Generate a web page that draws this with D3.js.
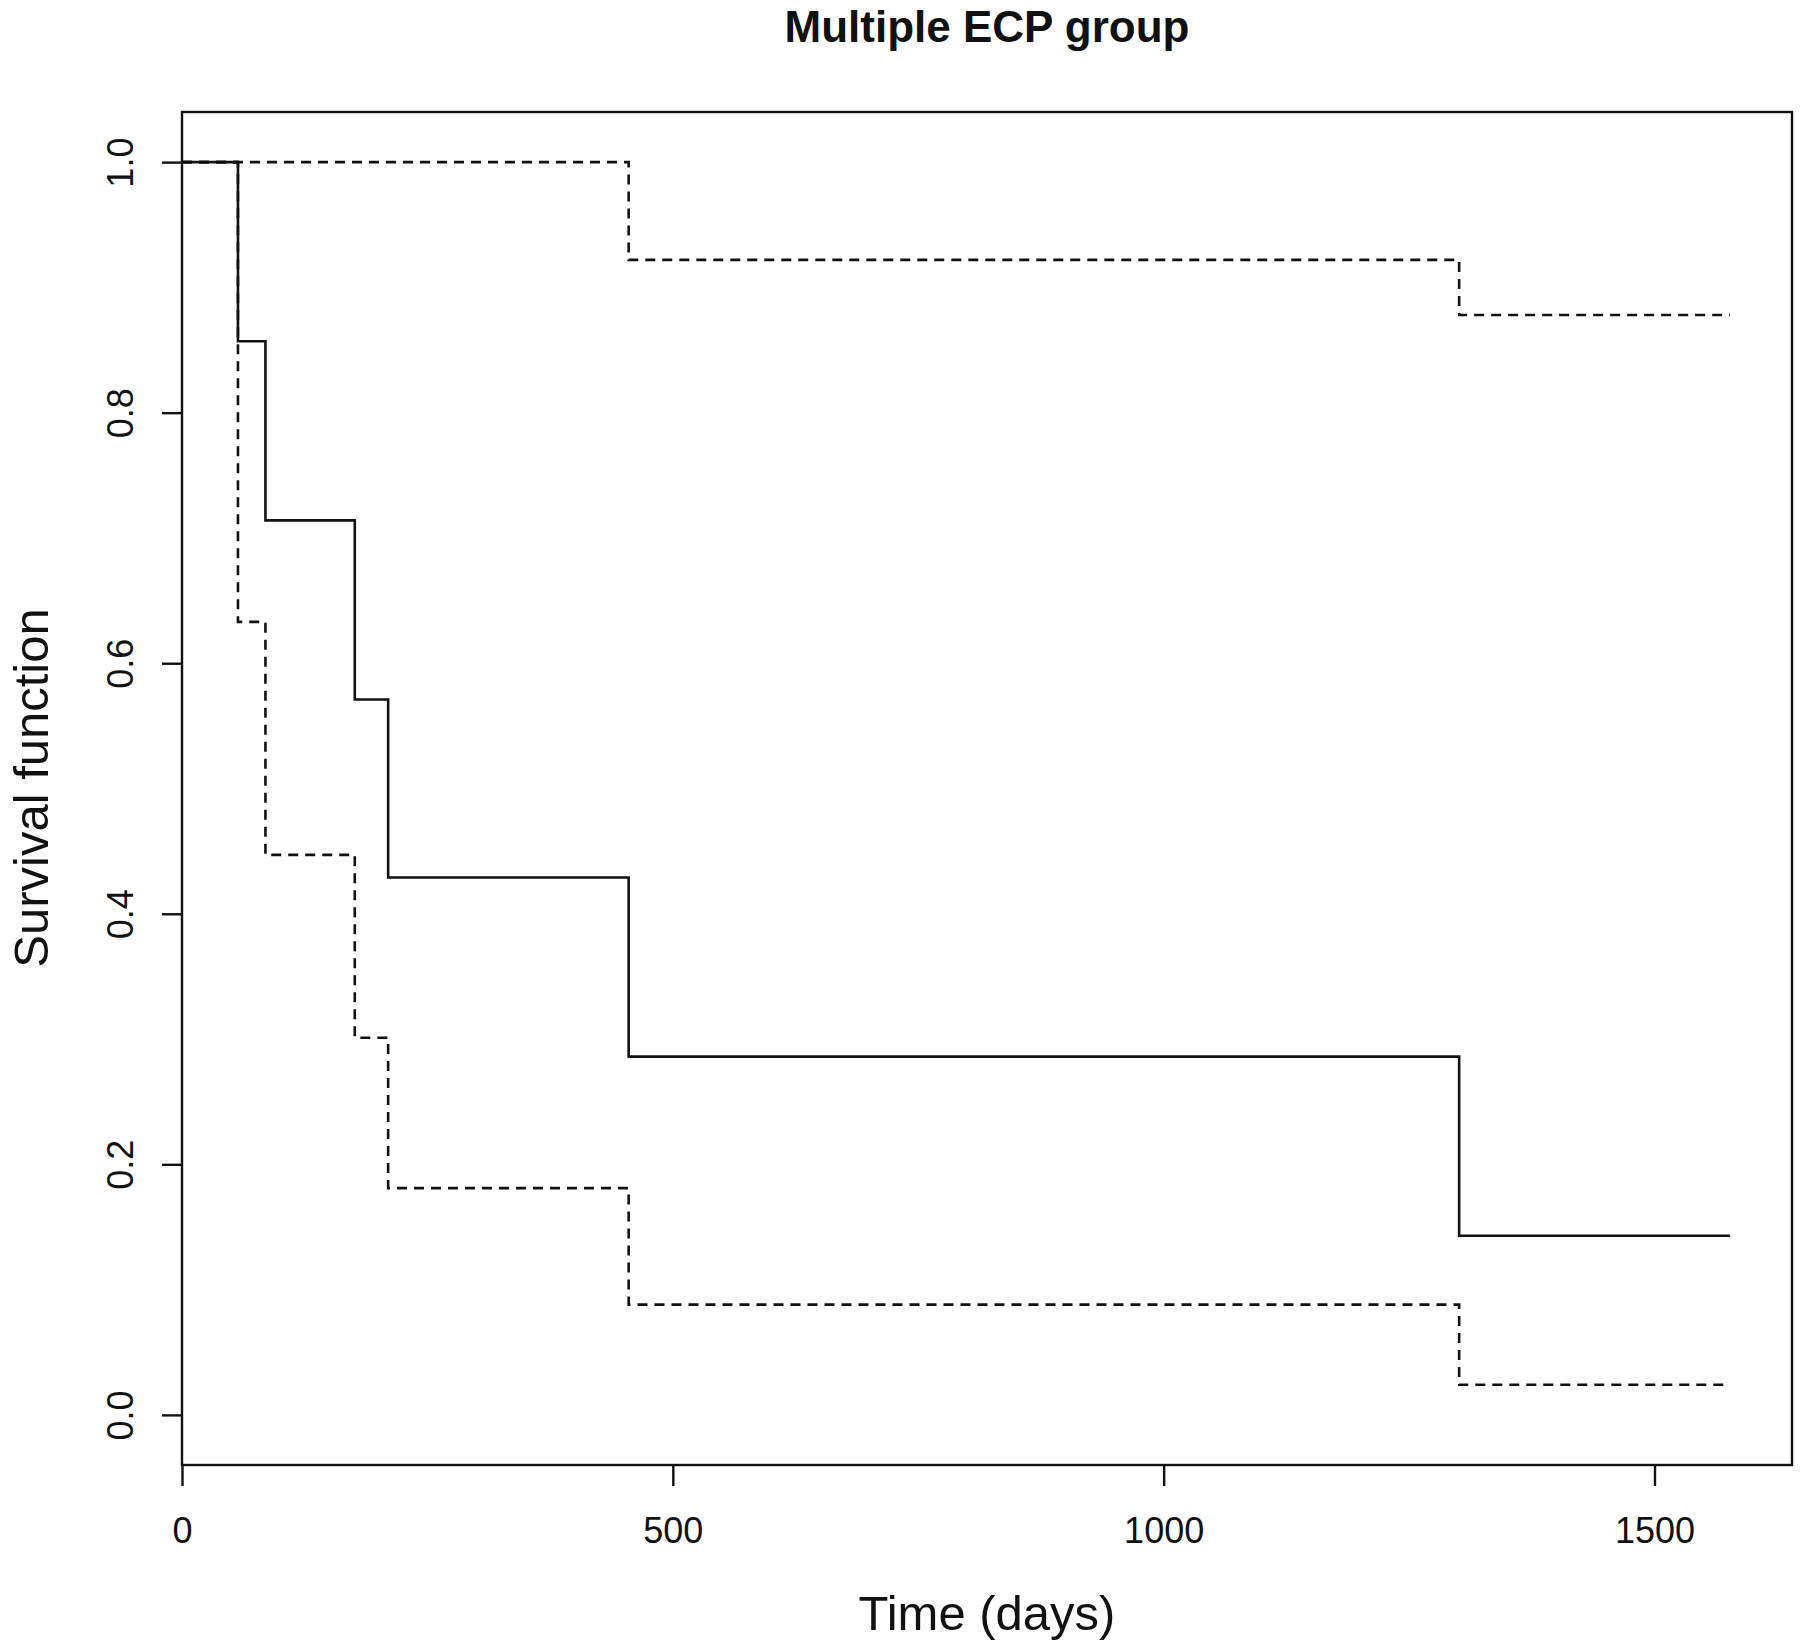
<!DOCTYPE html>
<html>
<head>
<meta charset="utf-8">
<script src="https://cdn.jsdelivr.net/npm/d3@7"></script>
<style>
  body { margin: 0; background: #fff; }
  svg { display: block; font-family: "Liberation Sans", Arial, sans-serif; }
</style>
</head>
<body>
<svg id="chart" width="1800" height="1648"></svg>
<script>
// Kaplan-Meier estimate
var times = [0, 57, 85, 176, 210, 455, 1301];
var survival = [1, 0.857, 0.714, 0.571, 0.429, 0.286, 0.143];
var upperCI = [1, 1, 1, 1, 1, 0.922, 0.878];
var lowerCI = [1, 0.633, 0.447, 0.301, 0.181, 0.088, 0.024];
var lastTime = 1577;

var xTicks = [0, 500, 1000, 1500];
var yTicks = [0, 0.2, 0.4, 0.6, 0.8, 1.0];

var svg = d3.select("#chart");

// plot box as R draws it (x extended 4% on the right, y 4% both ends)
var x = d3.scaleLinear().domain([0, lastTime * 1.04]).range([182, 1792]);
var y = d3.scaleLinear().domain([-0.04, 1.04]).range([1465, 112]);

// turn a series into step points, carried to the last time
function steps(values) {
  var pts = times.map(function(t, i) { return [t, values[i]]; });
  pts.push([lastTime, values[values.length - 1]]);
  return pts;
}

var line = d3.line()
  .x(function(d) { return x(d[0]); })
  .y(function(d) { return y(d[1]); })
  .curve(d3.curveStepAfter);

// confidence limits (dashed)
[upperCI, lowerCI].forEach(function(s) {
  svg.append("path")
    .datum(steps(s))
    .attr("d", line)
    .attr("fill", "none")
    .attr("stroke", "#111")
    .attr("stroke-width", 2.6)
    .attr("stroke-dasharray", "10,7");
});

// survival curve
svg.append("path")
  .datum(steps(survival))
  .attr("d", line)
  .attr("fill", "none")
  .attr("stroke", "#111")
  .attr("stroke-width", 2.6);

// box
svg.append("rect")
  .attr("x", x.range()[0])
  .attr("y", y.range()[1])
  .attr("width", x.range()[1] - x.range()[0])
  .attr("height", y.range()[0] - y.range()[1])
  .attr("fill", "none")
  .attr("stroke", "#111")
  .attr("stroke-width", 2.4);

// x axis
svg.append("g")
  .attr("transform", "translate(0," + y.range()[0] + ")")
  .call(d3.axisBottom(x).tickValues(xTicks).tickSize(21).tickFormat(d3.format("d")))
  .call(function(g) {
    g.select(".domain").remove();
    g.selectAll("line").attr("stroke", "#111").attr("stroke-width", 2.4);
    g.selectAll("text")
      .attr("y", 78)
      .attr("dy", null)
      .attr("fill", "#111")
      .style("font-size", "36px")
      .style("font-family", "Liberation Sans, Arial, sans-serif");
  });

// y axis, labels turned like R's las = 0
svg.append("g")
  .attr("transform", "translate(" + x.range()[0] + ",0)")
  .call(d3.axisLeft(y).tickValues(yTicks).tickSize(20).tickFormat(d3.format(".1f")))
  .call(function(g) {
    g.select(".domain").remove();
    g.selectAll("line").attr("stroke", "#111").attr("stroke-width", 2.4);
    g.selectAll("text")
      .attr("x", null)
      .attr("dy", null)
      .attr("text-anchor", "middle")
      .attr("transform", "translate(-49,0) rotate(-90)")
      .attr("fill", "#111")
      .style("font-size", "36px")
      .style("font-family", "Liberation Sans, Arial, sans-serif");
  });

// title and axis titles
svg.append("text")
  .attr("x", 987)
  .attr("y", 42)
  .attr("text-anchor", "middle")
  .style("font-size", "44px")
  .style("font-weight", "bold")
  .attr("fill", "#111")
  .text("Multiple ECP group");

svg.append("text")
  .attr("x", 987)
  .attr("y", 1630)
  .attr("text-anchor", "middle")
  .style("font-size", "49px")
  .attr("fill", "#111")
  .text("Time (days)");

svg.append("text")
  .attr("transform", "translate(48,788) rotate(-90)")
  .attr("text-anchor", "middle")
  .style("font-size", "49px")
  .attr("fill", "#111")
  .text("Survival function");
</script>
</body>
</html>
